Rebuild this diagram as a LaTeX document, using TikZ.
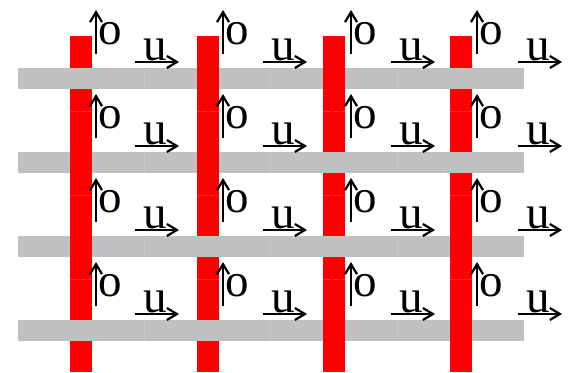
\documentclass[tikz,border=0pt]{standalone}
\usepackage{fontspec}
\setmainfont{Liberation Serif}
\usetikzlibrary{arrows.meta}
\definecolor{barred}{RGB}{255,0,0}
\definecolor{bargray}{RGB}{192,192,192}
\begin{document}
\begin{tikzpicture}[x=1pt,y=-1pt,
  redbar/.style={fill=barred,draw=none},
  graybar/.style={fill=bargray,draw=none},
  seam/.style={draw=white,opacity=0.15,line width=0.6pt},
  lab/.style={font=\fontsize{47}{47}\selectfont, inner sep=0pt, anchor=base west},
  vec/.style={line width=2.2pt,-{Straight Barb[length=10pt,width=12pt,line width=2.2pt]}}]
\useasboundingbox (0,0) rectangle (569,372);
% red vertical bars
\foreach \x in {70,197,323,450}{
  \fill[redbar] (\x,36) rectangle ++(22,336);
  \foreach \s in {111,195,279} \draw[seam] (\x,\s) -- ++(22,0);
}
% gray horizontal bars
\foreach \y in {68,152,236,320}{
  \fill[graybar] (18,\y) rectangle (524,{\y+21});
  \foreach \s in {144,270,397} \draw[seam] (\s,\y) -- ++(0,21);
}
% red over gray at these crossings
\foreach \x/\y in {70/152,70/236,197/68,197/152,323/68,323/320,450/236,450/320}
  \fill[redbar] (\x,{\y-1}) rectangle ++(22,23);
% labels and vectors
\foreach \c/\ox/\ux in {1/96/135,2/223/263,3/351/391,4/477/518}{
  \foreach \r in {0,1,2,3}{
    \node[lab] (o-\c-\r) at ({\ox+2.5},{44+84*\r}) {o};
    \coordinate (ob-\c-\r) at (\ox,{54+84*\r});
    \coordinate (ot-\c-\r) at (\ox,{10+84*\r});
    \draw[vec] (ob-\c-\r) -- (ot-\c-\r);
    \node[lab] (u-\c-\r) at ({\ux+8},{60+84*\r}) {u};
    \coordinate (ul-\c-\r) at (\ux,{62+84*\r});
    \coordinate (ur-\c-\r) at ({\ux+44},{62+84*\r});
    \draw[vec] (ul-\c-\r) -- (ur-\c-\r);
  }
}
\end{tikzpicture}
\end{document}
